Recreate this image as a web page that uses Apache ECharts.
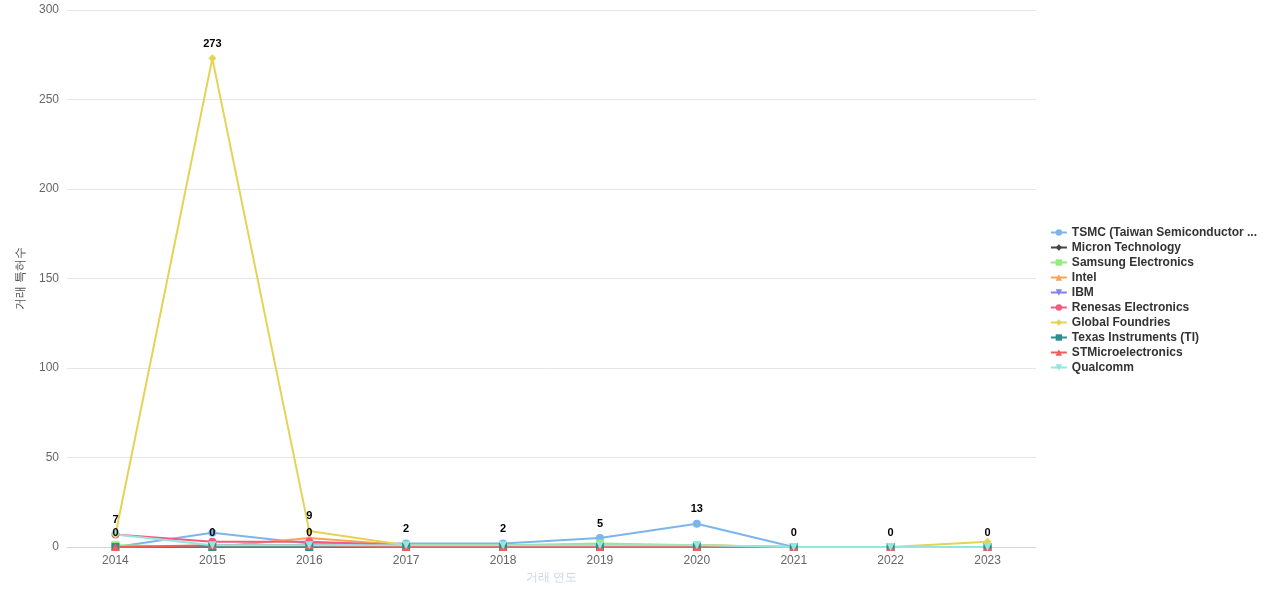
<!DOCTYPE html>
<html lang="ko">
<head>
<meta charset="UTF-8">
<title>거래 특허수</title>
<script src="https://cdn.jsdelivr.net/npm/echarts@6/dist/echarts.min.js"></script>
</head>
<body style="margin:0">
<div id="main" style="width:1280px;height:600px"></div>
<script>
var years = ['2014','2015','2016','2017','2018','2019','2020','2021','2022','2023'];
var names = ['TSMC (Taiwan Semiconductor ...','Micron Technology','Samsung Electronics','Intel','IBM',
  'Renesas Electronics','Global Foundries','Texas Instruments (TI)','STMicroelectronics','Qualcomm'];
var tsmc     = [0, 8, 2, 2, 2, 5, 13, 0, 0, 0];
var micron   = [0, 0, 0, 1, 0, 0, 0, 0, 0, 0];
var samsung  = [1, 0, 0, 1, 1, 2, 1, 0, 0, 0];
var intel    = [0, 0, 5, 1, 1, 1, 1, 0, 0, 0];
var ibm      = [0, 0, 0, 0, 0, 0, 0, 0, 0, 0];
var renesas  = [7, 3, 3, 1, 1, 1, 0, 0, 0, 0];
var gf       = [7, 273, 9, 1, 1, 1, 1, 0, 0, 3];
var ti       = [0, 0, 0, 0, 0, 0, 0, 0, 0, 0];
var st       = [0, 1, 1, 0, 0, 0, 0, 0, 0, 0];
var qualcomm = [7, 1, 1, 1, 1, 1, 1, 0, 0, 0];
// which points carry a label in the reference
var gfLabels   = [0, 1, 2];
var tsmcLabels = [3, 4, 5, 6];
var tiLabels   = [0, 1, 2, 7, 8, 9];

var colors = ['#7cb5ec','#434348','#90ed7d','#f7a35c','#8085e9','#f15c80','#e4d354','#2b908f','#f45b5b','#91e8e1'];
var symbols = ['circle','diamond','rect','triangle','path://M0,0 L10,0 L5,10 Z','circle','diamond','rect','triangle','path://M0,0 L10,0 L5,10 Z'];
var values = [tsmc, micron, samsung, intel, ibm, renesas, gf, ti, st, qualcomm];
var labelIdx = {0: tsmcLabels, 6: gfLabels, 7: tiLabels};

var series = values.map(function (v, i) {
  var lab = labelIdx[i] || [];
  return {
    name: names[i], type: 'line', symbol: symbols[i], symbolSize: 8,
    data: v.map(function (y, j) {
      return {value: y, label: {show: lab.indexOf(j) >= 0}};
    }),
    label: {position: 'top', color: '#000', fontWeight: 'bold', fontSize: 11},
    lineStyle: {width: 2}
  };
});

var chart = echarts.init(document.getElementById('main'));
chart.setOption({
  color: colors,
  animation: false,
  grid: {left: 67, right: 244, top: 10, bottom: 53},
  legend: {
    orient: 'vertical', right: 18, top: 'middle', itemGap: 3,
    itemWidth: 16, itemHeight: 8,
    textStyle: {fontWeight: 'bold', color: '#333', fontSize: 12}
  },
  xAxis: {
    type: 'category', data: years, name: '거래 연도', nameLocation: 'middle', nameGap: 24,
    axisTick: {show: false}, axisLine: {lineStyle: {color: '#ccd6eb'}},
    axisLabel: {color: '#666'}
  },
  yAxis: {
    type: 'value', min: 0, max: 300, interval: 50, name: '거래 특허수',
    nameLocation: 'middle', nameGap: 40, axisLabel: {color: '#666'},
    splitLine: {lineStyle: {color: '#e6e6e6'}}
  },
  series: series
});
</script>
</body>
</html>
